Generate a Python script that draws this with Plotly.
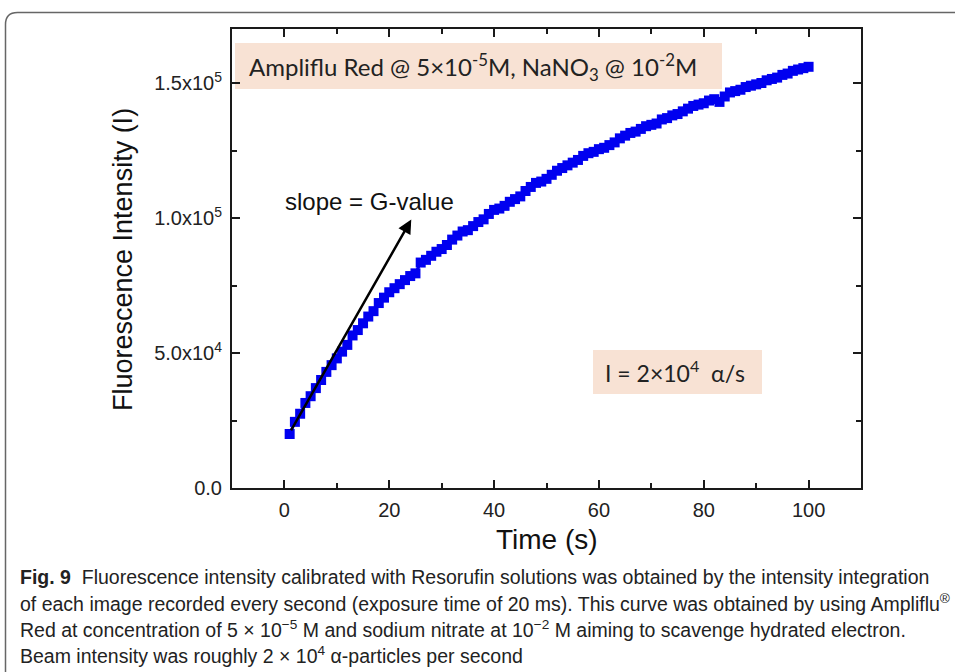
import plotly.graph_objects as go

# ---------------- data ----------------
time_s = list(range(1, 101))
intensity = [
    20000, 24500, 27500, 31500, 34000, 37000, 40000, 43000, 45500, 48000,
    50500, 53000, 56500, 58500, 61000, 63500, 65500, 68500, 70500, 72500,
    74000, 75500, 77000, 78500, 79500, 83500, 84500, 86000, 87500, 88500,
    90000, 92000, 93500, 95000, 95500, 97000, 98500, 99500, 101500, 103000,
    103500, 104500, 106000, 107000, 108000, 110000, 111500, 113000, 113500, 114500,
    116000, 117500, 118500, 119500, 120500, 121500, 123000, 124000, 124500, 125500,
    126000, 127000, 128000, 129500, 130500, 131500, 132000, 133000, 134000, 134500,
    135000, 136500, 137000, 138000, 138500, 139500, 140500, 141500, 142000, 142500,
    143500, 144000, 143000, 145000, 146500, 147000, 147500, 148500, 149000, 149500,
    150000, 151000, 151500, 152000, 153000, 153500, 154500, 155000, 155500, 156000,
]
x_ticks = [0, 20, 40, 60, 80, 100]
y_ticks = [0, 50000, 100000, 150000]
y_ticktext = ["0.0", "5.0x10<sup>4</sup>", "1.0x10<sup>5</sup>", "1.5x10<sup>5</sup>"]
arrow_tail = (1.1, 20800)
arrow_head = (24.2, 99400)

# ---------------- layout helpers (pixel -> paper) ----------------
W_FIG, H_FIG = 955, 672
L, R, T, B = 232, 861, 29, 488
PW, PH = R - L, B - T


def px(x):
    return (x - L) / PW


def py(y):
    return (B - y) / PH


fig = go.Figure()
fig.add_trace(go.Scatter(
    x=time_s, y=intensity, mode="lines+markers",
    line=dict(color="#0000f0", width=3),
    marker=dict(symbol="square", size=10, color="#0000f0"),
    showlegend=False, hoverinfo="x+y",
))

axis_common = dict(
    showline=True, linecolor="#1a1a1a", linewidth=2, mirror="allticks",
    ticks="inside", ticklen=8, tickwidth=2, tickcolor="#1a1a1a",
    showgrid=False, zeroline=False,
    tickfont=dict(family="Liberation Sans, Arial", size=20, color="#222"),
)

fig.update_xaxes(
    range=[-10, 110], tickvals=x_ticks, ticklabelstandoff=3,
    minor=dict(dtick=10, tick0=0, ticks="inside", ticklen=5, tickwidth=2,
               tickcolor="#1a1a1a", showgrid=False),
    **axis_common,
)
fig.update_yaxes(
    range=[0, 170000], tickvals=y_ticks, ticktext=y_ticktext, ticklabelstandoff=4,
    minor=dict(dtick=25000, tick0=0, ticks="inside", ticklen=5, tickwidth=2,
               tickcolor="#1a1a1a", showgrid=False),
    **axis_common,
)

shapes = []
# rounded outer frame (top-left corner, extends past the right and bottom edges)
rx, ry = 12 / PW, 12 / PH
x0, y0 = px(5.5), py(12.5)
x_end, y_end = px(965), py(690)
shapes.append(dict(
    type="path", xref="paper", yref="paper",
    path=(f"M {x0},{y_end} L {x0},{y0 - ry} Q {x0},{y0} {x0 + rx},{y0} L {x_end},{y0}"),
    line=dict(color="#666", width=1.5), layer="below",
))
# annotation backgrounds
shapes.append(dict(type="rect", xref="paper", yref="paper",
                   x0=px(235), x1=px(722), y0=py(89), y1=py(43),
                   fillcolor="#f8e2d4", line=dict(width=0), layer="below"))
shapes.append(dict(type="rect", xref="paper", yref="paper",
                   x0=px(593), x1=px(762), y0=py(394), y1=py(350),
                   fillcolor="#f8e2d4", line=dict(width=0), layer="below"))
fig.update_layout(shapes=shapes)

annotations = [
    # arrow
    dict(x=arrow_head[0], y=arrow_head[1], ax=arrow_tail[0], ay=arrow_tail[1],
         xref="x", yref="y", axref="x", ayref="y", text="", showarrow=True,
         arrowhead=2, arrowsize=1.1, arrowwidth=2.5, arrowcolor="#000"),
    dict(x=px(369), y=py(201), xref="paper", yref="paper", showarrow=False,
         xanchor="center", yanchor="middle",
         text="slope = G-value",
         font=dict(family="Liberation Sans, Arial", size=24, color="#111")),
    dict(x=px(247), y=py(67), xref="paper", yref="paper", showarrow=False,
         xanchor="left", yanchor="middle",
         text="Ampliflu Red @ 5×10<sup>-5</sup>M, NaNO<sub>3</sub> @ 10<sup>-2</sup>M",
         font=dict(family="Lato", size=24, color="#222")),
    dict(x=px(603), y=py(372), xref="paper", yref="paper", showarrow=False,
         xanchor="left", yanchor="middle",
         text="I = 2×10<sup>4</sup>  α/s",
         font=dict(family="Lato", size=23, color="#222")),
    # axis titles
    dict(x=px(547), y=py(539), xref="paper", yref="paper", showarrow=False,
         xanchor="center", yanchor="middle",
         text="Time (s)",
         font=dict(family="Liberation Sans, Arial", size=28, color="#111")),
    dict(x=px(123), y=py(260), xref="paper", yref="paper", showarrow=False,
         xanchor="center", yanchor="middle",
         text="Fluorescence Intensity (I)", textangle=-90,
         font=dict(family="Liberation Sans, Arial", size=27, color="#111")),
]

caption_lines = [
    "<b>Fig. 9</b>  Fluorescence intensity calibrated with Resorufin solutions was obtained by the intensity integration",
    "of each image recorded every second (exposure time of 20 ms). This curve was obtained by using Ampliflu<sup>®</sup>",
    "Red at concentration of 5 × 10<sup>−5</sup> M and sodium nitrate at 10<sup>−2</sup> M aiming to scavenge hydrated electron.",
    "Beam intensity was roughly 2 × 10<sup>4</sup> α-particles per second",
]
caption_y = [577, 603, 629, 655]
for line, yy in zip(caption_lines, caption_y):
    annotations.append(dict(
        x=px(18), y=py(yy), xref="paper", yref="paper", showarrow=False,
        xanchor="left", yanchor="middle", align="left", text=line,
        font=dict(family="Liberation Sans Narrow, Liberation Sans", size=19.5, color="#222"),
    ))

fig.update_layout(
    annotations=annotations,
    width=W_FIG, height=H_FIG, autosize=False,
    margin=dict(l=L, r=W_FIG - R, t=T, b=H_FIG - B),
    paper_bgcolor="white", plot_bgcolor="white",
)

fig.write_html(
    "out.html",
    config=dict(displayModeBar=False),
    post_script="document.body.style.margin='0';document.body.style.overflow='hidden';",
)
